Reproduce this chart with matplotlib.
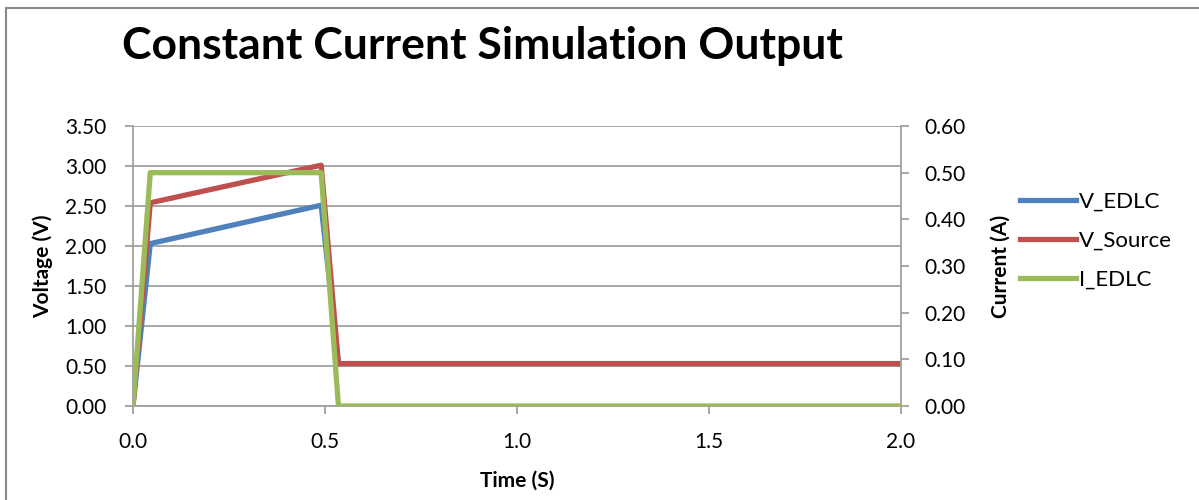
import matplotlib
matplotlib.use("Agg")
import matplotlib.pyplot as plt
import matplotlib.patches as mpatches
from matplotlib.ticker import FormatStrFormatter

# data
time_s = [0.0, 0.045, 0.49, 0.535, 2.0]
v_edlc = [0.0, 2.03, 2.51, 0.53, 0.53]
v_source = [0.0, 2.54, 3.01, 0.53, 0.53]
i_edlc = [0.0, 0.50, 0.50, 0.0, 0.0]

x_ticks = [0.0, 0.5, 1.0, 1.5, 2.0]
v_ticks = [0.0, 0.5, 1.0, 1.5, 2.0, 2.5, 3.0, 3.5]
i_ticks = [0.0, 0.1, 0.2, 0.3, 0.4, 0.5, 0.6]

BLUE, RED, GREEN = "#4F81BD", "#C0504D", "#9BBB59"
GRID = "#A0A0A0"
FONT = ["Lato", "DejaVu Sans"]
plt.rcParams["font.family"] = FONT

fig = plt.figure(figsize=(11.99, 5.0), dpi=100)
ax = fig.add_axes([133 / 1199, 1 - 406 / 500, 768 / 1199, 280 / 500])
ax2 = ax.twinx()

lw = 3.8
l1, = ax.plot(time_s, v_edlc, color=BLUE, lw=lw, label="V_EDLC", zorder=3)
l2, = ax.plot(time_s, v_source, color=RED, lw=lw, label="V_Source", zorder=4)
l3, = ax2.plot(time_s, i_edlc, color=GREEN, lw=lw, label="I_EDLC", zorder=5)

ax.set_xlim(0, 2.0)
ax.set_ylim(0, 3.5)
ax2.set_ylim(0, 0.6)
ax.set_xticks(x_ticks)
ax.set_yticks(v_ticks)
ax2.set_yticks(i_ticks)
ax.xaxis.set_major_formatter(FormatStrFormatter("%.1f"))
ax.yaxis.set_major_formatter(FormatStrFormatter("%.2f"))
ax2.yaxis.set_major_formatter(FormatStrFormatter("%.2f"))

ax.yaxis.grid(True, color=GRID, lw=1.3)
ax.set_axisbelow(True)
for a in (ax, ax2):
    for s in a.spines.values():
        s.set_visible(False)
ax.spines["left"].set_visible(True)
ax.spines["bottom"].set_visible(True)
ax2.spines["right"].set_visible(True)
for s in (ax.spines["left"], ax.spines["bottom"], ax2.spines["right"]):
    s.set_color(GRID)
    s.set_linewidth(1.3)

ax.tick_params(axis="y", colors=GRID, labelcolor="black", labelsize=15,
               length=6, width=1.3, pad=13)
ax.tick_params(axis="x", colors=GRID, labelcolor="black", labelsize=15,
               length=6, width=1.3, pad=13)
ax2.tick_params(axis="y", colors=GRID, labelcolor="black", labelsize=15,
                length=6, width=1.3, pad=11)

ax.set_xlabel("Time (S)", fontsize=15, fontweight="bold", labelpad=13)
ax.set_ylabel("Voltage (V)", fontsize=15, fontweight="bold", labelpad=9)
ax2.set_ylabel("Current (A)", fontsize=15, fontweight="bold", labelpad=18,
               rotation=90)

fig.text(122 / 1199, 1 - 46 / 500, "Constant Current Simulation Output",
         fontsize=32, fontweight="bold", va="center", ha="left")

fig.legend(handles=[l1, l2, l3], loc="center left",
           bbox_to_anchor=(1020 / 1199, 1 - 241 / 500), frameon=False,
           fontsize=16, handlelength=2.5, handletextpad=0.15,
           labelspacing=0.85, borderpad=0, borderaxespad=0)

# chart area border
fig.patches.append(mpatches.Rectangle((6 / 1199, -0.1), 1.2, 1 - 8 / 500 + 0.1,
                                      transform=fig.transFigure, fill=False,
                                      edgecolor="#888888", lw=1.5))

fig.savefig("out.png", dpi=100)
